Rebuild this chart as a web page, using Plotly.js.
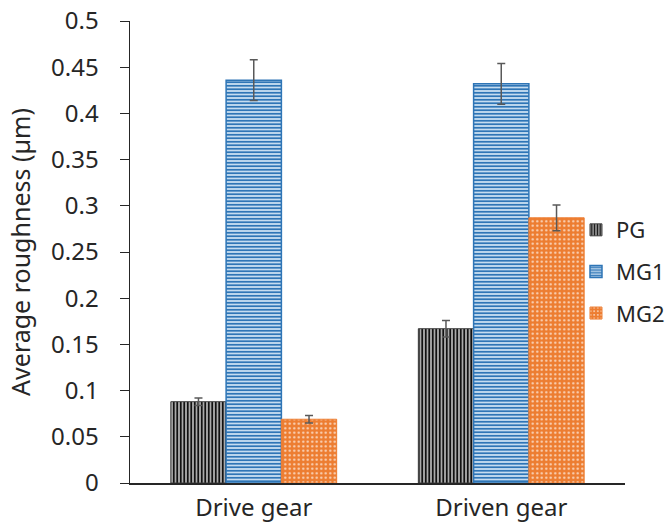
<!DOCTYPE html>
<html>
<head>
<meta charset="utf-8">
<script src="https://cdn.plot.ly/plotly-3.0.1.min.js"></script>
<style>html,body{margin:0;padding:0;background:#fff;}#chart{width:665px;height:524px;}</style>
</head>
<body>
<div id="chart"></div>
<script>
var categories = ["Drive gear", "Driven gear"];
var seriesNames = ["PG", "MG1", "MG2"];
var pgValues = [0.088, 0.167];
var pgErrors = [0.004, 0.009];
var mg1Values = [0.436, 0.432];
var mg1Errors = [0.022, 0.022];
var mg2Values = [0.069, 0.287];
var mg2Errors = [0.004, 0.014];
var yTickValues = [0, 0.05, 0.1, 0.15, 0.2, 0.25, 0.3, 0.35, 0.4, 0.45, 0.5];
var yTickLabels = ["0", "0.05", "0.1", "0.15", "0.2", "0.25", "0.3", "0.35", "0.4", "0.45", "0.5"];

var font = "Noto Sans, Open Sans, sans-serif";
var txt = "#262626";
var errStyle = {type: "data", visible: true, color: "#595959", thickness: 1.5, width: 4};

function mkErr(arr) { var e = Object.assign({}, errStyle); e.array = arr; return e; }

var traces = [
  {
    type: "bar", name: seriesNames[0], x: categories, y: pgValues,
    error_y: mkErr(pgErrors), legendgroup: "a",
    marker: {color: "#bfbfbf", line: {color: "#404040", width: 1},
      pattern: {shape: "|", fgcolor: "#111111", bgcolor: "#d0d0d0", size: 3.5, solidity: 0.6}}
  },
  {
    type: "bar", name: seriesNames[1], x: categories, y: mg1Values,
    error_y: mkErr(mg1Errors), legendgroup: "b",
    marker: {color: "#BDD7EE", line: {color: "#2E75B6", width: 1.5},
      pattern: {shape: "-", fgcolor: "#2E75B6", bgcolor: "#C5DCF0", size: 3.5, solidity: 0.5}}
  },
  {
    type: "bar", name: seriesNames[2], x: categories, y: mg2Values,
    error_y: mkErr(mg2Errors), legendgroup: "c",
    marker: {color: "#ED7D31", line: {color: "#ED7D31", width: 1},
      pattern: {shape: ".", fgcolor: "#FAD9C2", bgcolor: "#ED7D31", size: 4.5, solidity: 0.2}}
  }
];

var layout = {
  width: 665, height: 524,
  margin: {l: 130, r: 40, t: 21, b: 41, pad: 0, autoexpand: false},
  paper_bgcolor: "#ffffff", plot_bgcolor: "#ffffff",
  font: {family: font, size: 24, color: txt},
  barmode: "group", bargap: 0.33, bargroupgap: 0,
  showlegend: true,
  legend: {x: 0.901, y: 0.593, xanchor: "left", yanchor: "top", bgcolor: "rgba(0,0,0,0)",
    font: {family: font, size: 22, color: txt}, itemwidth: 30, tracegroupgap: 10,
    traceorder: "grouped"},
  xaxis: {
    showline: true, linecolor: txt, linewidth: 1.5, ticks: "", showgrid: false,
    zeroline: false, tickfont: {family: font, size: 24, color: txt}, ticklabelstandoff: 3
  },
  yaxis: {
    range: [0, 0.5], tickvals: yTickValues, ticktext: yTickLabels,
    showline: true, linecolor: txt, linewidth: 1.5,
    ticks: "outside", ticklen: 9, tickcolor: txt, tickwidth: 1,
    showgrid: false, zeroline: false, ticklabelstandoff: 16,
    tickfont: {family: font, size: 24, color: txt},
    title: {text: "Average roughness (µm)", font: {family: font, size: 25, color: txt}, standoff: 13}
  }
};

Plotly.newPlot("chart", traces, layout, {displayModeBar: false, staticPlot: true});
</script>
</body>
</html>
